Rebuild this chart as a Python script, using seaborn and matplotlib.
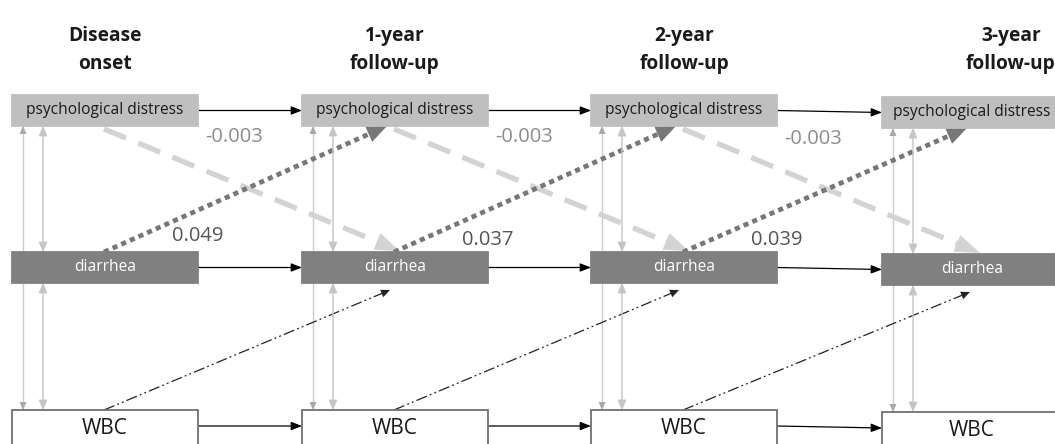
import numpy as np
import matplotlib
matplotlib.use("Agg")
import matplotlib.pyplot as plt
import seaborn as sns
from matplotlib.patches import Rectangle

# Cross-lagged path diagram: psychological distress, diarrhea, WBC
waves = ["Disease\nonset", "1-year\nfollow-up", "2-year\nfollow-up", "3-year\nfollow-up"]
variables = ["psychological distress", "diarrhea", "WBC"]
distress_to_diarrhea = ["-0.003", "-0.003", "-0.003"]
diarrhea_to_distress = ["0.049", "0.037", "0.039"]

sns.set_style("white")
plt.rcParams["font.family"] = ["Open Sans", "DejaVu Sans"]

fig = plt.figure(figsize=(10.55, 4.44), dpi=100)
ax = fig.add_axes([0, 0, 1, 1])
ax.set_xlim(0, 1055)
ax.set_ylim(444, 0)
ax.axis("off")

PX = 72 / 100  # points per pixel

# layout (pixels)
box_left = [12, 302, 591, 882]
col_dy = [0, 0, 0, 2]
box_w = 186
row_top = [95, 252, 410]
row_h = [31, 31, 40]
face = ["#bfbfbf", "#808080", "white"]
edge = ["#bfbfbf", "#808080", "#6f6f6f"]
txt_col = ["#1a1a1a", "white", "#1a1a1a"]
txt_size = [11.2, 11.2, 15]


def arrow(x0, y0, x1, y1, color, lw=1.0, style="-|>", hlen=8, hwid=6, z=3):
    ax.annotate("", xy=(x1, y1), xytext=(x0, y0),
                arrowprops=dict(arrowstyle=f"{style},head_length={hlen * PX / 10:.3f},head_width={hwid * PX / 20:.3f}",
                                color=color, lw=lw, shrinkA=0, shrinkB=0,
                                mutation_scale=10), zorder=z)


def styled_arrow(x0, y0, x1, y1, color, lw, dashes, head_len, head_w, z=2):
    v = np.array([x1 - x0, y1 - y0], float)
    u = v / np.hypot(*v)
    bx, by = x1 - u[0] * head_len * 0.9, y1 - u[1] * head_len * 0.9
    ax.plot([x0, bx], [y0, by], color=color, lw=lw, dashes=dashes,
            solid_capstyle="butt", dash_capstyle="butt", zorder=z)
    hx, hy = x1 - u[0] * head_len, y1 - u[1] * head_len
    arrow(hx, hy, x1, y1, color, lw=0, hlen=head_len, hwid=head_w, z=z)


# headers
for i, w in enumerate(waves):
    cx = box_left[i] + 93 if i < 3 else 1011
    ax.text(cx, 50, w, ha="center", va="center", fontsize=13.8, fontweight="bold",
            color="#1a1a1a", linespacing=1.5)

# boxes
for i in range(4):
    for r in range(3):
        top = row_top[r] + col_dy[i]
        ax.add_patch(Rectangle((box_left[i], top), box_w, row_h[r], facecolor=face[r],
                               edgecolor=edge[r], lw=1.3, zorder=4))
        ty = top + 15 if r < 2 else top + 18
        ax.text(box_left[i] + box_w / 2 - (3 if i == 3 else 0), ty, variables[r],
                ha="center", va="center", fontsize=txt_size[r], color=txt_col[r], zorder=5)

# within-wave correlations (thin grey verticals)
for i in range(4):
    d = col_dy[i]
    xa, xb = box_left[i] + 11, box_left[i] + 31
    ax.plot([xa, xa], [row_top[0] + 31 + d, row_top[2] + d], color="#cccccc", lw=1, zorder=1)
    arrow(xa, row_top[0] + 42 + d, xa, row_top[0] + 31 + d, "#a8a8a8", lw=0, hlen=8, hwid=7)
    arrow(xa, row_top[2] - 11 + d, xa, row_top[2] + d, "#a8a8a8", lw=0, hlen=8, hwid=7)
    for ya, yb in [(row_top[0] + 31, row_top[1]), (row_top[1] + 31, row_top[2])]:
        arrow(xb, ya + d, xb, yb + d, "#c4c4c4", lw=1, style="<|-|>", hlen=8, hwid=7)

# autoregressive paths
for i in range(3):
    for r in range(3):
        y0 = row_top[r] + row_h[r] / 2 + col_dy[i] - (4 if r == 2 else 0)
        y1 = row_top[r] + row_h[r] / 2 + col_dy[i + 1] - (4 if r == 2 else 0)
        arrow(box_left[i] + box_w, y0, box_left[i + 1], y1, "black", lw=0.9, hlen=9, hwid=7)

# cross-lagged paths
for i in range(3):
    L, N = box_left[i], box_left[i + 1]
    d1 = col_dy[i + 1]
    # distress -> diarrhea (light grey dashed)
    styled_arrow(L + 92, 129, N + 98, row_top[1] - 1 + d1, "#d3d3d3", 3.8, (4.5, 2.5), 25, 18)
    # diarrhea -> distress (dark grey dotted)
    styled_arrow(L + 92, row_top[1], N + 85, 126 + d1, "#777777", 3.4, (1.1, 0.9), 20, 17)
    # WBC -> diarrhea (black dash-dot-dot)
    styled_arrow(L + 92, row_top[2], N + 88, 290 + d1, "#222222", 0.9,
                 (9, 2.5, 1.5, 2.5, 1.5, 2.5), 9, 8)
    ax.text(L + 222, 137 + (2 if i == 2 else 0), distress_to_diarrhea[i], ha="center",
            va="center", fontsize=14.5, color="#8c8c8c", zorder=6)
    ax.text(L + 186, 236 + (4 if i else 0), diarrhea_to_distress[i],
            ha="center", va="center", fontsize=14.5, color="#555555", zorder=6)

fig.savefig("out.png", dpi=100, facecolor="white")
